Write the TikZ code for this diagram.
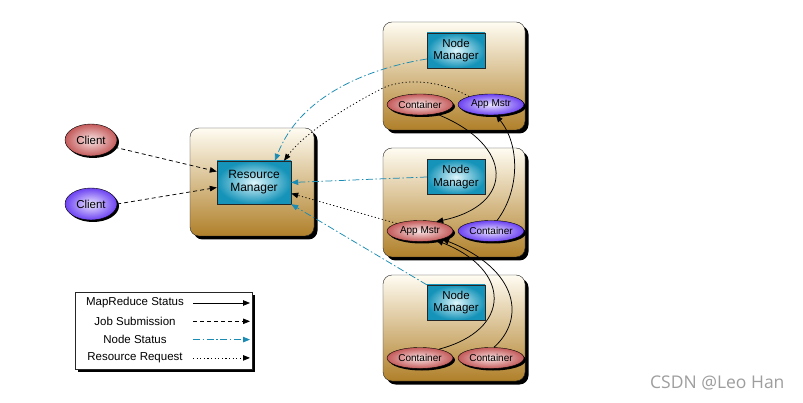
\documentclass[tikz,border=0pt]{standalone}
\usepackage{fontspec}
\setmainfont{Liberation Sans}
\newfontfamily\wmfont{Open Sans}
\usetikzlibrary{arrows.meta,shadows,shapes.geometric}

\definecolor{boxtop}{HTML}{FFFCF2}
\definecolor{boxmid}{HTML}{E4CD9C}
\definecolor{boxbot}{HTML}{B0802A}
\definecolor{nmteal}{HTML}{1593B8}
\definecolor{nmlight}{HTML}{DDF6FC}
\definecolor{podred}{HTML}{C45A5A}
\definecolor{podredlight}{HTML}{FAE6E6}
\definecolor{podblue}{HTML}{6C42F2}
\definecolor{podbluelight}{HTML}{ECE6FF}
\definecolor{statusline}{HTML}{1A8BB2}

\tikzset{
  blackshadow/.style={drop shadow={shadow xshift=#1,shadow yshift=-#1,fill=black,opacity=1}},
  blackshadow/.default=3.5pt,
  machine/.style={draw=black!85, rounded corners=9pt, top color=boxtop, middle color=boxmid, bottom color=boxbot,
    minimum width=142pt, minimum height=108pt, blackshadow},
  manager/.style={draw=black!85, inner color=nmlight, outer color=nmteal, align=center,
    minimum width=58pt, minimum height=35pt, inner sep=1pt, font=\fontsize{11.5}{12.5}\selectfont},
  redpod/.style={ellipse, draw, inner color=podredlight, outer color=podred, inner sep=0pt,
    minimum width=66pt, minimum height=21pt, font=\fontsize{10}{10}\selectfont, blackshadow=2pt},
  bluepod/.style={redpod, inner color=podbluelight, outer color=podblue},
  tipped/.style={-{Triangle[length=7pt,width=5.5pt]}, line width=0.75pt},
  mrstatus/.style={tipped, black},
  jobsub/.style={tipped, black, dash pattern=on 4pt off 3pt},
  nodestatus/.style={tipped, statusline, dash pattern=on 7pt off 2.5pt on 1.5pt off 2.5pt},
  resreq/.style={tipped, black, dash pattern=on 1.2pt off 2.4pt},
}

\begin{document}
\begin{tikzpicture}[x=1pt,y=-1pt]
    \fill[white] (0,0) rectangle (803,403);
    \useasboundingbox (0,0) rectangle (803,403);

    % Clients
    \node[redpod, minimum width=52pt, minimum height=32pt, font=\fontsize{11.5}{12}\selectfont] (client1) at (91,140) {Client};
    \node[bluepod, minimum width=52pt, minimum height=32pt, font=\fontsize{11.5}{12}\selectfont] (client2) at (91,204) {Client};

    % Resource Manager
    \node[machine, minimum width=124pt] (rmbox) at (252,182) {};
    \node[manager, minimum width=74pt, minimum height=43pt, font=\fontsize{12}{13}\selectfont] (rm) at (254,182.5) {Resource\\Manager};

    % Machines with their Node Managers
    \node[machine] (box1) at (454,76) {};
    \node[machine, minimum height=109pt] (box2) at (454,202.5) {};
    \node[machine, minimum height=106pt] (box3) at (454,328) {};
    \node[manager] (nm1) at (456,50.5) {Node\\Manager};
    \node[manager] (nm2) at (456,177) {Node\\Manager};
    \node[manager] (nm3) at (456,302.5) {Node\\Manager};

    % Containers and application masters
    \node[redpod] (c1) at (420,104.5) {Container};
    \node[bluepod] (am1) at (491,104.5) {App Mstr};
    \node[redpod] (am2) at (420,231) {App Mstr};
    \node[bluepod] (c2) at (491,231) {Container};
    \node[redpod] (c31) at (420,358) {Container};
    \node[redpod] (c32) at (491,358) {Container};

    % Job submission
    \draw[jobsub] (client1.-17) -- ([yshift=11pt]rm.west);
    \draw[jobsub] (client2.east) -- ([yshift=-5pt]rm.west);

    % Node status
    \draw[nodestatus] ([yshift=-8.5pt]nm1.west) .. controls (370,68) and (300,95) .. ([xshift=21pt]rm.north);
    \draw[nodestatus] (nm2.west) -- (rm.east);
    \draw[nodestatus] (nm3.north west) -- (rm.south east);

    % Resource requests
    \draw[resreq] (am1.160) .. controls (440,80) and (405,78) .. (383,88)
        .. controls (350,105) and (305,132) .. ([xshift=30pt]rm.north);
    \draw[resreq] (am2.162) -- ([yshift=-11pt]rm.east);

    % MapReduce status
    \draw[mrstatus] (c1.-30) .. controls (515,145) and (515,205) .. (am2.30);
    \draw[mrstatus] (c2.60) .. controls (520,190) and (520,145) .. (am1.-65);
    \draw[mrstatus] (c31.25) .. controls (512,330) and (512,270) .. (am2.-30);
    \draw[mrstatus] (c32.75) .. controls (525,320) and (520,270) .. (am2.-20);

    % Legend
    \node[draw=black!85, fill=white, blackshadow=3pt, minimum width=177pt, minimum height=77pt] (legend) at (163.5,330.5) {};
    \foreach \txt/\sty [count=\i] in {MapReduce Status/mrstatus, Job Submission/jobsub, Node Status/nodestatus, Resource Request/resreq} {
        \node[font=\fontsize{11.5}{12}\selectfont] (key\i) at (135,303+18.3*\i-18.3) {\txt};
        \draw[\sty] (193,303+18.3*\i-18.3) -- (250,303+18.3*\i-18.3);
    }

    % Watermark
    \node[anchor=east, text=black!38, font=\wmfont\fontsize{17.5}{18}\selectfont] (mark) at (788,383) {CSDN @Leo Han};
\end{tikzpicture}
\end{document}
